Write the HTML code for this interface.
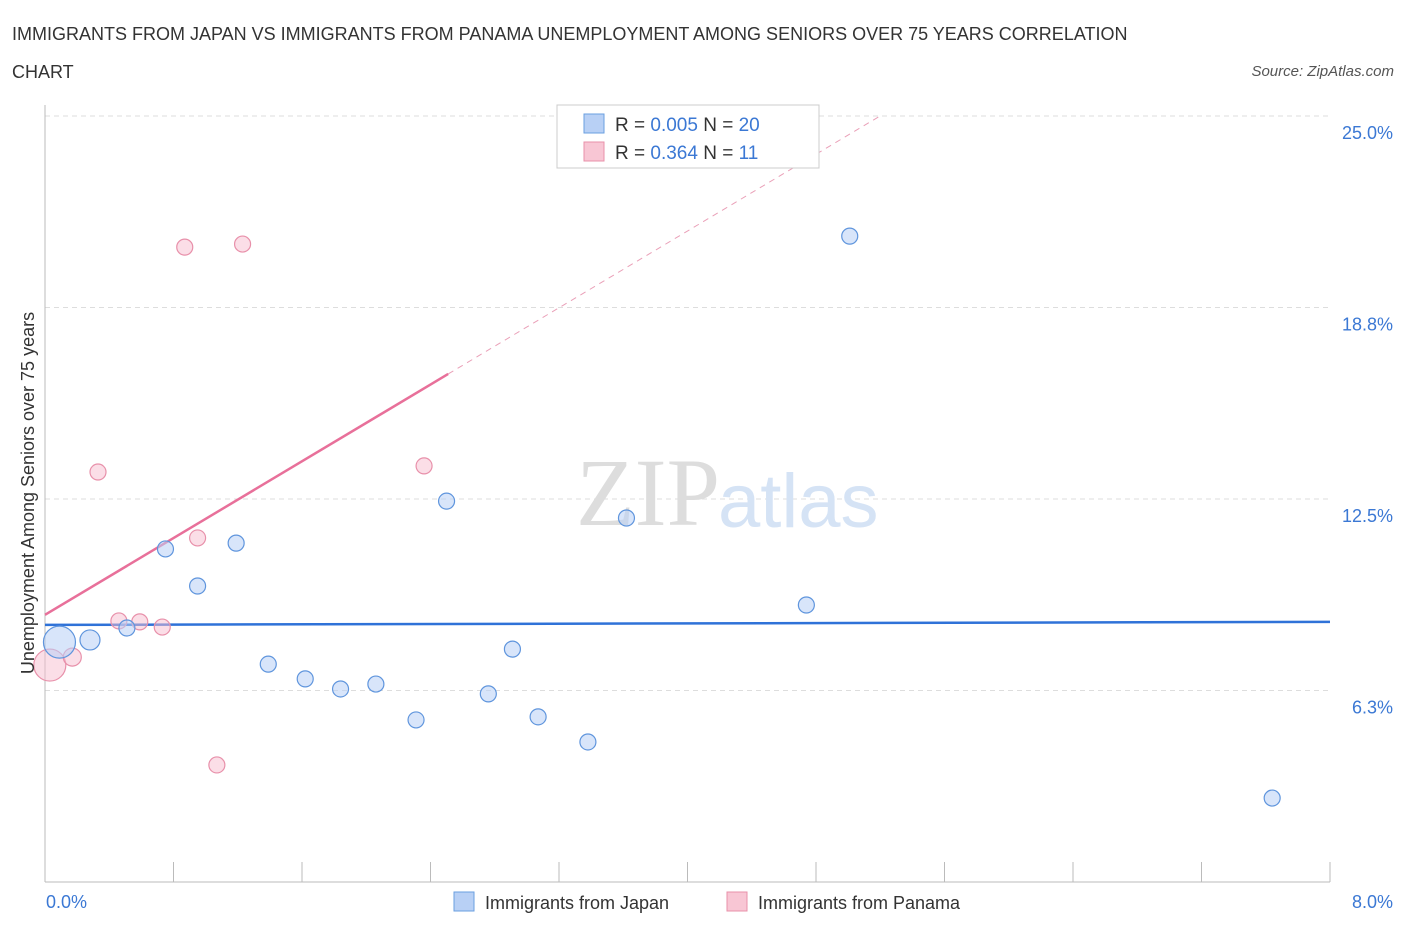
<!DOCTYPE html>
<html><head><meta charset="utf-8"><style>
body{margin:0;background:#fff;font-family:"Liberation Sans",sans-serif;}
svg{display:block}
</style></head><body>
<svg width="1406" height="930">
<text x="12" y="40" font-size="18" fill="#333">IMMIGRANTS FROM JAPAN VS IMMIGRANTS FROM PANAMA UNEMPLOYMENT AMONG SENIORS OVER 75 YEARS CORRELATION</text>
<text x="12" y="78" font-size="18" fill="#333">CHART</text>
<text x="1394" y="76" font-size="15" fill="#555" font-style="italic" text-anchor="end">Source: ZipAtlas.com</text>
<g id="grid"></g>
<text x="720" y="525" font-size="96" fill="#ddd" text-anchor="end" font-family="Liberation Serif">ZIP</text>
<text x="718" y="527" font-size="76" fill="#d5e3f5">atlas</text>
<g id="trend"></g>
<g id="pts"></g>
<text transform="translate(34,493) rotate(-90)" font-size="18" fill="#333" text-anchor="middle">Unemployment Among Seniors over 75 years</text>
<text x="46" y="908" font-size="18" fill="#3b78d4">0.0%</text>
<text x="1393" y="908" font-size="18" fill="#3b78d4" text-anchor="end">8.0%</text>
<g>
<rect x="557" y="105" width="262" height="63" fill="#fff" stroke="#ccc"/>
<rect x="584" y="114" width="20" height="19" fill="#b8d0f5" stroke="#6a9fe0"/>
<text x="615" y="131" font-size="19" fill="#333">R = <tspan fill="#3b78d4">0.005</tspan>   N = <tspan fill="#3b78d4">20</tspan></text>
<rect x="584" y="142" width="20" height="19" fill="#f8c6d4" stroke="#e890aa"/>
<text x="615" y="159" font-size="19" fill="#333">R =  <tspan fill="#3b78d4">0.364</tspan>   N =   <tspan fill="#3b78d4">11</tspan></text>
</g>
<g>
<rect x="454" y="892" width="20" height="19" fill="#b8d0f5" stroke="#6a9fe0"/>
<text x="485" y="909" font-size="18" fill="#333">Immigrants from Japan</text>
<rect x="727" y="892" width="20" height="19" fill="#f8c6d4" stroke="#e890aa"/>
<text x="758" y="909" font-size="18" fill="#333">Immigrants from Panama</text>
</g>
</svg>
<script>
const yTicks=[6.25,12.5,18.75,25];
const yTickLabels=["6.3%","12.5%","18.8%","25.0%"];
const xTicks=[0,0.8,1.6,2.4,3.2,4.0,4.8,5.6,6.4,7.2,8.0];
const japanX=[0.09,0.28,0.51,0.75,0.95,1.19,1.39,1.62,1.84,2.06,2.31,2.50,2.76,2.91,3.07,3.38,3.62,4.74,5.01,7.64];
const japanY=[7.83,7.90,8.29,10.87,9.66,11.06,7.11,6.63,6.30,6.46,5.29,12.43,6.14,7.60,5.39,4.57,11.88,9.04,21.08,2.74];
const japanR=[16,10,8,8,8,8,8,8,8,8,8,8,8,8,8,8,8,8,8,8];
const panamaX=[0.03,0.17,0.33,0.46,0.59,0.73,0.87,0.95,1.07,1.23,2.36];
const panamaY=[7.08,7.34,13.38,8.52,8.49,8.32,20.72,11.23,3.82,20.82,13.58];
const panamaR=[16,9,8,8,8,8,8,8,8,8,8];
const japanTrend=[8.39,8.49];
const panamaTrend=[8.72,16.58];
const panamaTrendEndX=2.51, panamaDashEndX=5.2;
const NS="http://www.w3.org/2000/svg";
const X=v=>45+v*160.625, Y=v=>882-v*30.64;
function mk(t,a,p){const e=document.createElementNS(NS,t);for(const k in a)e.setAttribute(k,a[k]);p.appendChild(e);return e;}
const g=document.getElementById('grid');
yTicks.forEach((t,i)=>{
 const l=mk('line',{x1:45,x2:1330,y1:Y(t),y2:Y(t),stroke:'#ddd','stroke-dasharray':'5,4'},g);
 
 
 const tx=mk('text',{x:1393,y:Y(t)+23,'font-size':18,fill:'#3b78d4','text-anchor':'end'},g);
 tx.textContent=yTickLabels[i];
 
 
});
const ax=mk('line',{x1:45,x2:45,y1:105,y2:882,stroke:'#bbb'},g);


const bx=mk('line',{x1:45,x2:1330,y1:882,y2:882,stroke:'#bbb'},g);


xTicks.forEach(t=>{
 const l=mk('line',{x1:X(t),x2:X(t),y1:862,y2:882,stroke:'#bbb'},g);
 
 
});
const tr=document.getElementById('trend');
const bl=mk('line',{x1:X(0),x2:X(8),y1:Y(japanTrend[0]),y2:Y(japanTrend[1]),stroke:'#2f72d8','stroke-width':2.5},tr);


const slope=(panamaTrend[1]-panamaTrend[0])/panamaTrendEndX;
const pl=mk('line',{x1:X(0),x2:X(panamaTrendEndX),y1:Y(panamaTrend[0]),y2:Y(panamaTrend[1]),stroke:'#e8709a','stroke-width':2.5},tr);


const pd=mk('line',{x1:X(panamaTrendEndX),x2:X(panamaDashEndX),y1:Y(panamaTrend[1]),y2:Y(panamaTrend[0]+slope*panamaDashEndX),stroke:'#eaa0b8','stroke-width':1,'stroke-dasharray':'6,5'},tr);


const pts=document.getElementById('pts');
panamaX.forEach((v,i)=>{
 const c=mk('circle',{cx:X(v),cy:Y(panamaY[i]),r:panamaR[i],fill:'rgba(248,190,208,0.5)',stroke:'#e890aa','stroke-width':1.2},pts);
 
 
});
japanX.forEach((v,i)=>{
 const c=mk('circle',{cx:X(v),cy:Y(japanY[i]),r:japanR[i],fill:'rgba(184,208,245,0.55)',stroke:'#5f95dd','stroke-width':1.2},pts);
 
 
});
</script>
</body></html>
